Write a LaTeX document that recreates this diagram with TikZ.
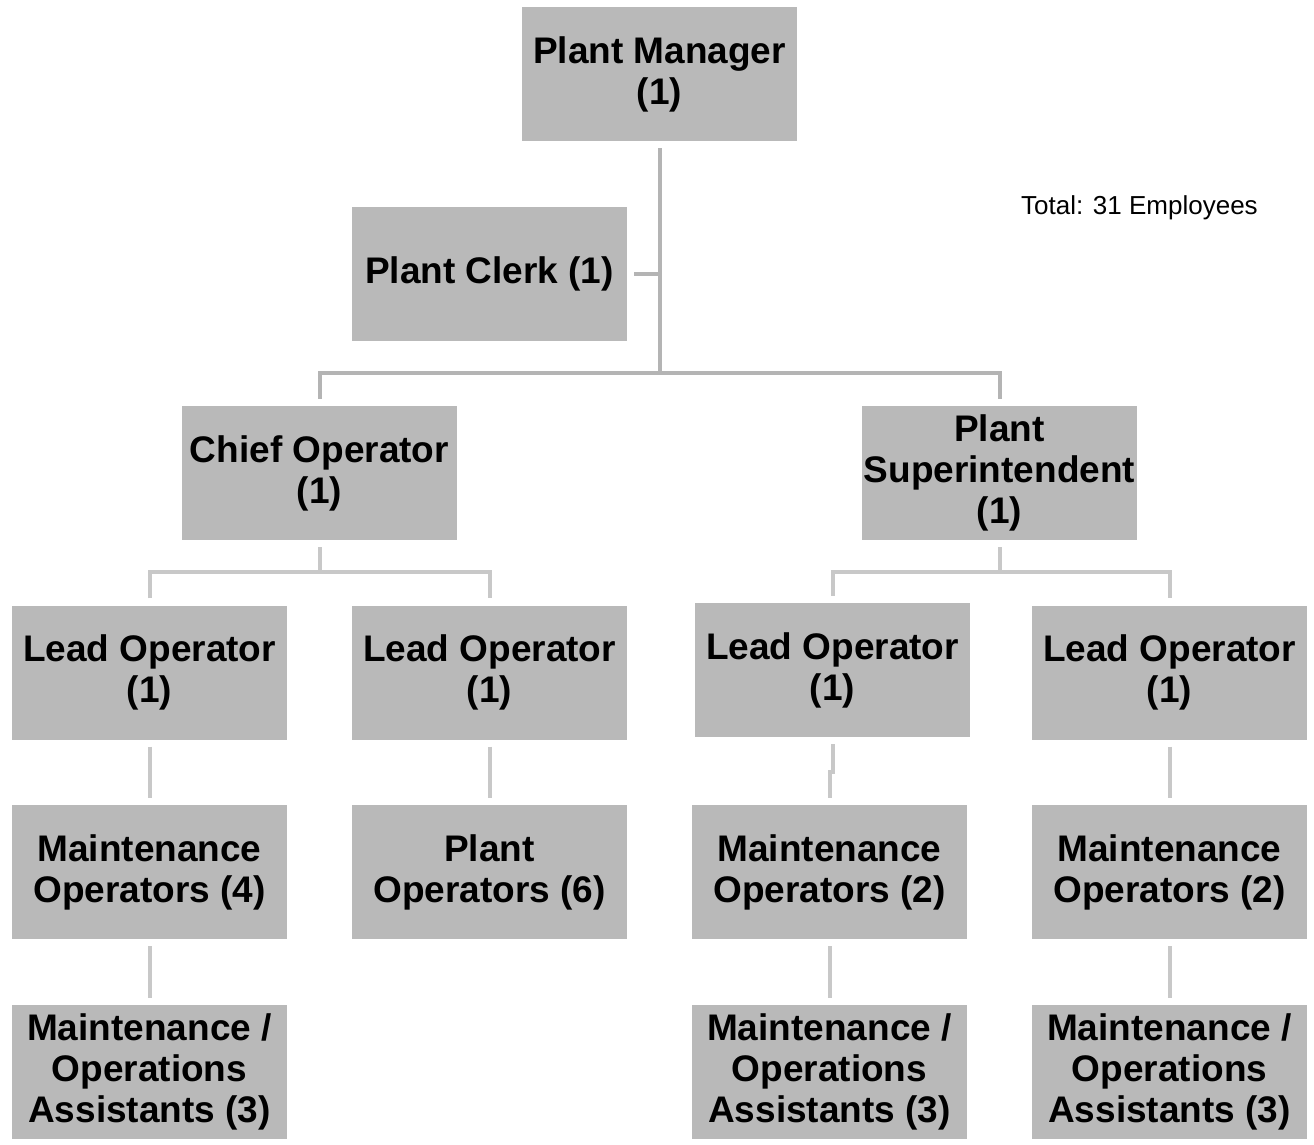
\documentclass[tikz,border=0pt]{standalone}
\usepackage{fontspec}
\setmainfont{Liberation Sans}
\begin{document}
\begin{tikzpicture}[x=1pt,y=-1pt,
  box/.style={fill=boxgray, draw=none, minimum width=275pt, minimum height=134pt,
    inner sep=0pt, align=center, font=\fontsize{37}{41}\selectfont\bfseries},
  conn/.style={draw=linegray, line width=4pt},
  connlight/.style={draw=linelight, line width=4pt}]
\definecolor{boxgray}{HTML}{B9B9B9}
\definecolor{linegray}{HTML}{B4B4B4}
\definecolor{linelight}{HTML}{C8C8C8}
\useasboundingbox (0,0) rectangle (1314,1144);

% boxes
\node[box] (pm)    at (659.5,74)    {Plant Manager\\(1)};
\node[box] (clerk) at (489.5,274)   {Plant Clerk (1)};
\node[box] (chief) at (319.5,473)   {Chief Operator\\(1)};
\node[box] (sup)   at (999.5,473)   {Plant\\Superintendent\\(1)};
\node[box] (lead1) at (149.5,672.5) {Lead Operator\\(1)};
\node[box] (lead2) at (489.5,672.5) {Lead Operator\\(1)};
\node[box] (lead3) at (832.5,670)   {Lead Operator\\(1)};
\node[box] (lead4) at (1169.5,672.5){Lead Operator\\(1)};
\node[box] (m1)    at (149.5,872)   {Maintenance\\Operators (4)};
\node[box] (po)    at (489.5,872)   {Plant\\Operators (6)};
\node[box] (m3)    at (829.5,872)   {Maintenance\\Operators (2)};
\node[box] (m4)    at (1169.5,872)  {Maintenance\\Operators (2)};
\node[box] (a1)    at (149.5,1072)  {Maintenance /\\Operations\\Assistants (3)};
\node[box] (a3)    at (829.5,1072)  {Maintenance /\\Operations\\Assistants (3)};
\node[box] (a4)    at (1169.5,1072) {Maintenance /\\Operations\\Assistants (3)};

\node[font=\fontsize{26}{30}\selectfont, anchor=west, inner sep=0pt] (total) at (1021,208) {Total: 31 Employees};

% junction points
\coordinate (j0) at (659.5,373);
\coordinate (j1) at (319.5,572);
\coordinate (j2) at (999.5,572);

% upper connectors
\draw[conn] ([yshift=-7pt]pm.south) -- (j0);
\draw[conn] ([xshift=7pt]clerk.east) -- (clerk.east -| j0);
\draw[conn] ([yshift=7pt]chief.north) |- (j0) -| ([yshift=7pt]sup.north);

% second level
\draw[connlight] ([yshift=-7pt]chief.south) -- (j1);
\draw[connlight] ([yshift=7pt]lead1.north) |- (j1) -| ([yshift=7pt]lead2.north);
\draw[connlight] ([yshift=-7pt]sup.south) -- (j2);
\draw[connlight] ([yshift=7pt]lead3.north) |- (j2) -| ([yshift=7pt]lead4.north);

% lower connectors
\draw[connlight] ([yshift=-7pt]lead1.south) -- ([yshift=7pt]m1.north);
\draw[connlight] ([yshift=-7pt]lead2.south) -- ([yshift=7pt]po.north);
\draw[connlight] ([yshift=-7pt]lead3.south) -- ++(0,28) -| ([yshift=7pt]m3.north);
\draw[connlight] ([yshift=-7pt]lead4.south) -- ([yshift=7pt]m4.north);
\draw[connlight] ([yshift=-7pt]m1.south) -- ([yshift=7pt]a1.north);
\draw[connlight] ([yshift=-7pt]m3.south) -- ([yshift=7pt]a3.north);
\draw[connlight] ([yshift=-7pt]m4.south) -- ([yshift=7pt]a4.north);
\end{tikzpicture}
\end{document}
